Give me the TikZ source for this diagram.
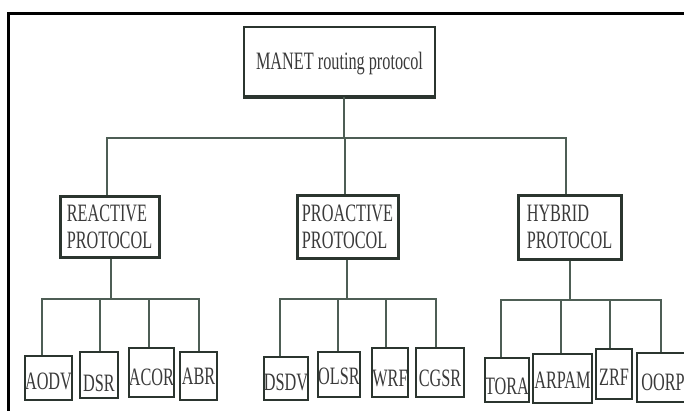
\documentclass[tikz,border=0pt]{standalone}
\usepackage{fontspec}
\setmainfont{Liberation Serif}[FakeStretch=0.65]
\definecolor{boxc}{HTML}{2B352F}
\definecolor{connc}{HTML}{4E5E55}
\definecolor{txtc}{HTML}{3A3A3A}
\newcommand\lowtxt[2]{\raisebox{-#1pt}[16.5pt][0pt]{#2}}
\begin{document}
\begin{tikzpicture}[x=1pt,y=1pt,
  box/.style={draw=boxc, line width=2.6pt, fill=white, inner sep=0pt, text=txtc,
    font=\fontsize{25}{27}\selectfont},
  midbox/.style={box, line width=3pt, align=left},
  leaf/.style={box, line width=2.4pt},
  conn/.style={draw=connc, line width=2pt}]
\useasboundingbox (0,0) rectangle (684,-410);
\clip (0,0) rectangle (684,-410);
\fill[white] (0,0) rectangle (684,-410);
\draw[black, line width=3pt] (8,-420) -- (8,-13) -- (700,-13);

% top
\node[box, line width=2pt, minimum width=191, minimum height=69, text height=16.5pt, text depth=0pt]
  (top) at (339.5,-61.5) {MANET routing protocol};
\draw[boxc, line width=3pt] (top.south west) -- (top.south east);

% middle level
\node[midbox, minimum width=99, minimum height=61] (reactive) at (109.5,-226.5) {REACTIVE\\PROTOCOL};
\node[midbox, minimum width=101, minimum height=63] (proactive) at (347.5,-226.5) {PROACTIVE\\PROTOCOL};
\node[midbox, minimum width=103, minimum height=64] (hybrid) at (569.5,-227) {HYBRID\\PROTOCOL};

% leaves
\node[leaf, minimum width=43, minimum height=44] (aodv) at (48.5,-378) {\lowtxt{3}{AODV}};
\node[leaf, minimum width=38, minimum height=46] (dsr) at (99,-375) {\lowtxt{8}{DSR}};
\node[leaf, minimum width=45, minimum height=49] (acor) at (151.5,-372.5) {\lowtxt{5}{ACOR}};
\node[leaf, minimum width=37, minimum height=48] (abr) at (198.5,-376) {\lowtxt{0}{ABR}};

\node[leaf, minimum width=44, minimum height=43] (dsdv) at (286,-378.5) {\lowtxt{3.5}{DSDV}};
\node[leaf, minimum width=42, minimum height=45] (olsr) at (339,-374.5) {\lowtxt{2}{OLSR}};
\node[leaf, minimum width=36, minimum height=49] (wrf) at (390,-372.5) {\lowtxt{6}{WRF}};
\node[leaf, minimum width=48, minimum height=49] (cgsr) at (440,-372.5) {\lowtxt{6}{CGSR}};

\node[leaf, minimum width=44, minimum height=44] (tora) at (507,-380) {\lowtxt{6}{TORA}};
\node[leaf, minimum width=59, minimum height=49] (arpam) at (562.5,-378.5) {\lowtxt{1.5}{ARPAM}};
\node[leaf, minimum width=36, minimum height=50] (zrf) at (614,-374) {\lowtxt{3}{ZRF}};
\node[leaf, minimum width=52, minimum height=49] (oorp) at (663,-377.5) {\lowtxt{4.5}{OORP}};

% connectors level 1
\coordinate (bus0) at (0,-138);
\draw[conn] ([xshift=4.5]top.south) -- ([xshift=4.5]top.south |- bus0);
\draw[conn] ([xshift=-2.5]reactive.north) |- ([xshift=-3.5]hybrid.north |- bus0) -- ([xshift=-3.5]hybrid.north);
\draw[conn] ([xshift=-3]proactive.north) -- ([xshift=-3]proactive.north |- bus0);

% reactive group
\coordinate (busR) at (0,-299);
\draw[conn] ([xshift=1.5]reactive.south) -- ([xshift=1.5]reactive.south |- busR);
\draw[conn] ([xshift=-6.5]aodv.north) |- ([xshift=0.5]abr.north |- busR) -- ([xshift=0.5]abr.north);
\draw[conn] ([xshift=1]dsr.north) -- ([xshift=1]dsr.north |- busR);
\draw[conn] ([xshift=-2.5]acor.north) -- ([xshift=-2.5]acor.north |- busR);

% proactive group
\draw[conn] ([xshift=-0.5]proactive.south) -- ([xshift=-0.5]proactive.south |- busR);
\draw[conn] ([xshift=-6]dsdv.north) |- ([xshift=-4]cgsr.north |- busR) -- ([xshift=-4]cgsr.north);
\draw[conn] ([xshift=-1]olsr.north) -- ([xshift=-1]olsr.north |- busR);
\draw[conn] ([xshift=-4]wrf.north) -- ([xshift=-4]wrf.north |- busR);

% hybrid group
\coordinate (busH) at (0,-300);
\draw[conn] ([xshift=0.5]hybrid.south) -- ([xshift=0.5]hybrid.south |- busH);
\draw[conn] ([xshift=-6]tora.north) |- ([xshift=-2]oorp.north |- busH) -- ([xshift=-2]oorp.north);
\draw[conn] ([xshift=-1.5]arpam.north) -- ([xshift=-1.5]arpam.north |- busH);
\draw[conn] ([xshift=-4]zrf.north) -- ([xshift=-4]zrf.north |- busH);
\end{tikzpicture}
\end{document}
